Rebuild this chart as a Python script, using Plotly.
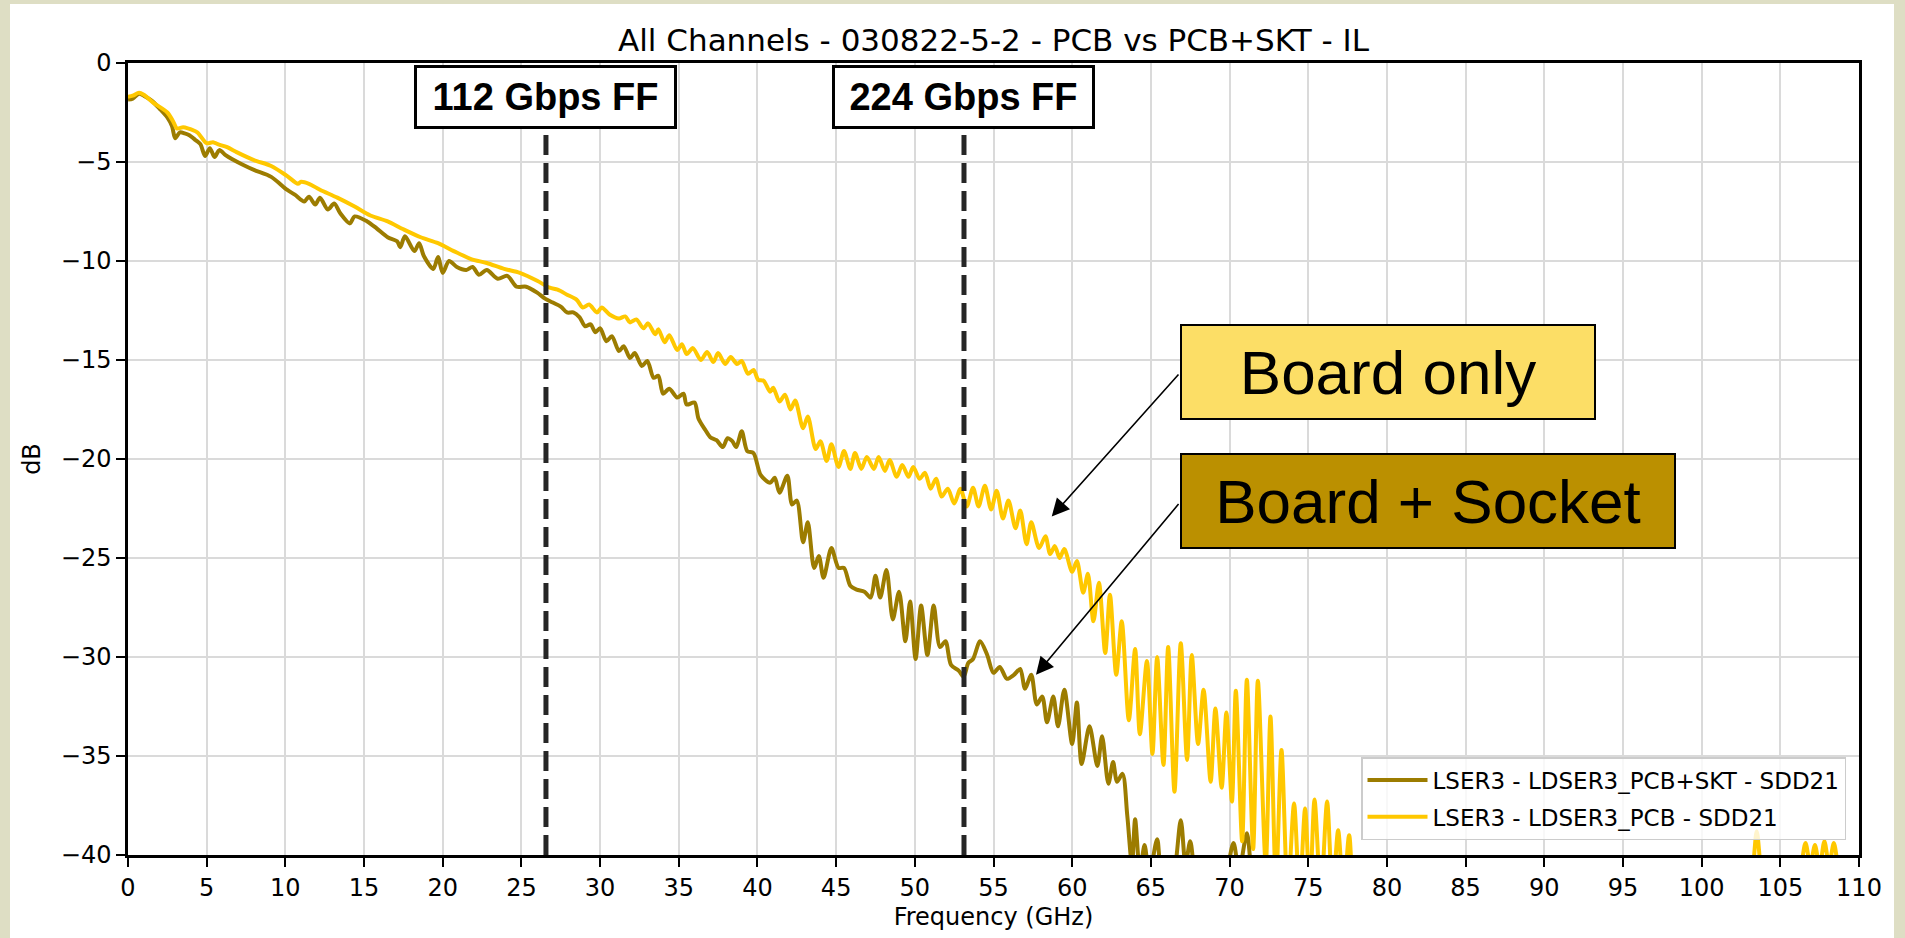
import plotly.graph_objects as go

# ---------------- data ----------------
freq_skt = [0.0, 0.3, 0.7, 1.0, 1.5, 2.0, 2.5, 2.8, 3.0, 3.3, 3.6, 3.9, 4.3, 4.6, 4.9, 5.2, 5.5, 5.8,
            6.2, 6.6, 7.2, 8.0, 9.1, 10.1, 10.6, 11.2, 11.5, 11.9, 12.2, 12.7, 13.1, 13.5, 14.1, 14.4,
            15.2, 15.8, 16.5, 17.1, 17.3, 17.6, 18.2, 18.5, 18.8, 19.4, 19.7, 20.0, 20.4, 20.9, 21.5,
            21.9, 22.3, 22.8, 23.5, 24.1, 24.7, 25.3, 26.0, 26.5, 27.0, 27.5, 27.9, 28.3, 28.7, 29.05,
            29.4, 29.7, 30.0, 30.4, 30.75, 31.2, 31.5, 31.9, 32.2, 32.65, 33.0, 33.4, 33.7, 34.0, 34.4,
            34.9, 35.3, 35.5, 36.0, 36.25, 36.7, 37.0, 37.4, 37.8, 38.1, 38.4, 38.65, 39.0, 39.35, 39.75,
            40.2, 40.8, 41.1, 41.4, 41.9, 42.2, 42.5, 42.9, 43.2, 43.6, 43.9, 44.2, 44.7, 45.15, 45.5,
            45.9, 46.3, 46.8, 47.2, 47.5, 47.8, 48.2, 48.6, 49.0, 49.4, 49.7, 50.05, 50.4, 50.8, 51.2,
            51.6, 51.95, 52.3, 52.8, 53.1, 53.4, 53.7, 54.15, 54.6, 55.0, 55.4, 55.85, 56.3, 56.7, 57.0,
            57.4, 57.75, 58.1, 58.4, 58.8, 59.1, 59.5, 60.0, 60.3, 60.6, 61.1, 61.6, 61.9, 62.3, 62.6,
            62.85, 63.2, 63.5, 63.8, 64.0, 64.3, 64.6, 64.9, 65.4, 65.7, 66.3, 66.9, 67.2, 67.5, 67.8,
            68.5, 69.5, 70.25, 70.6, 71.1, 71.4, 72.0, 75.0, 80.0, 85.0, 90.0, 95.0, 100.0, 105.0, 110.0]
db_skt = [-1.85, -1.8, -1.55, -1.65, -1.9, -2.3, -2.75, -3.2, -3.8, -3.5, -3.55, -3.65, -3.9, -4.1, -4.7,
          -4.3, -4.75, -4.4, -4.65, -4.85, -5.1, -5.4, -5.75, -6.4, -6.65, -7.0, -6.75, -7.15, -6.8, -7.4,
          -7.1, -7.6, -8.1, -7.75, -8.0, -8.35, -8.8, -9.0, -9.3, -8.75, -9.5, -9.1, -9.75, -10.4, -9.8,
          -10.6, -10.0, -10.3, -10.45, -10.3, -10.7, -10.45, -10.9, -10.75, -11.3, -11.3, -11.6, -11.9,
          -12.1, -12.3, -12.6, -12.6, -12.85, -13.3, -13.2, -13.6, -13.4, -14.05, -13.8, -14.55, -14.3,
          -14.9, -14.65, -15.3, -15.05, -15.9, -15.8, -16.7, -16.45, -16.9, -16.7, -17.25, -17.15, -17.95,
          -18.55, -18.9, -19.05, -19.4, -18.95, -19.1, -19.4, -18.6, -19.6, -19.7, -20.8, -21.2, -20.95,
          -21.7, -20.85, -22.3, -22.1, -24.2, -23.2, -25.5, -24.9, -26.0, -24.5, -25.5, -25.5, -26.4,
          -26.6, -26.7, -27.0, -25.9, -27.0, -25.6, -28.1, -26.7, -29.2, -27.2, -30.1, -27.4, -29.9,
          -27.4, -29.5, -29.2, -30.4, -30.7, -31.0, -30.3, -30.1, -29.2, -29.9, -30.8, -30.5, -31.1,
          -30.9, -30.6, -31.6, -30.9, -32.4, -32.0, -33.3, -32.0, -33.5, -31.65, -34.4, -32.3, -35.4,
          -33.5, -35.5, -34.0, -36.4, -35.3, -36.3, -35.9, -38.0, -40.5, -38.2, -40.8, -39.5, -41.0,
          -39.2, -41.0, -41.5, -38.25, -40.5, -39.3, -41.0, -43.0, -42.0, -39.4, -40.8, -38.9, -41.0,
          -44.0, -45.0, -46.0, -48.0, -47.0, -49.0, -48.0, -47.0, -49.0]

freq_pcb = [0.0, 0.3, 0.7, 1.0, 1.6, 2.5, 2.9, 3.1, 3.5, 3.8, 4.4, 5.0, 5.4, 5.7, 6.3, 6.9, 8.0, 9.1,
            10.1, 10.8, 11.0, 11.5, 12.2, 13.3, 14.4, 15.4, 16.5, 17.5, 18.6, 19.7, 20.7, 21.8, 22.8,
            23.9, 24.9, 26.0, 26.8, 27.3, 27.9, 28.5, 28.9, 29.3, 29.8, 30.1, 30.6, 31.2, 31.6, 31.9,
            32.3, 32.75, 33.05, 33.5, 33.7, 34.1, 34.4, 34.9, 35.2, 35.5, 35.9, 36.4, 36.8, 37.2, 37.5,
            37.95, 38.3, 38.7, 39.0, 39.4, 39.75, 40.05, 40.4, 40.8, 41.0, 41.4, 41.75, 42.1, 42.4, 42.9,
            43.2, 43.7, 44.0, 44.4, 44.7, 45.15, 45.5, 45.9, 46.2, 46.6, 46.95, 47.4, 47.7, 48.1, 48.4,
            48.85, 49.2, 49.6, 49.9, 50.3, 50.65, 51.0, 51.35, 51.7, 52.1, 52.5, 52.9, 53.3, 53.7, 54.05,
            54.45, 54.85, 55.2, 55.6, 55.95, 56.4, 56.7, 57.1, 57.4, 57.9, 58.3, 58.6, 58.9, 59.2, 59.5,
            60.0, 60.3, 60.7, 61.0, 61.35, 61.7, 62.1, 62.4, 62.8, 63.15, 63.6, 64.0, 64.3, 64.75, 65.1,
            65.4, 65.8, 66.1, 66.5, 66.9, 67.3, 67.6, 68.0, 68.35, 68.8, 69.1, 69.5, 69.8, 70.15, 70.4,
            70.8, 71.1, 71.5, 71.8, 72.3, 72.6, 72.95, 73.3, 73.7, 74.1, 74.45, 74.8, 75.1, 75.4, 75.8,
            76.2, 76.55, 76.9, 77.25, 77.6, 78.0, 78.5, 80.0, 85.0, 90.0, 95.0, 100.0, 102.5, 103.2,
            103.5, 103.8, 104.5, 106.0, 106.6, 106.9, 107.2, 107.5, 107.8, 108.1, 108.4, 108.7, 109.2, 110.0]
db_pcb = [-1.7, -1.65, -1.5, -1.6, -2.0, -2.5, -3.0, -3.3, -3.25, -3.3, -3.5, -4.05, -4.0, -4.1, -4.25,
          -4.5, -4.9, -5.2, -5.7, -6.1, -6.0, -6.1, -6.4, -6.8, -7.25, -7.7, -8.0, -8.4, -8.8, -9.1, -9.5,
          -9.9, -10.1, -10.4, -10.6, -11.0, -11.35, -11.45, -11.7, -11.95, -12.35, -12.2, -12.6, -12.35,
          -12.7, -12.9, -12.8, -13.1, -12.95, -13.4, -13.15, -13.7, -13.45, -14.1, -13.75, -14.5, -14.2,
          -14.7, -14.4, -15.0, -14.6, -15.1, -14.65, -15.2, -14.85, -15.2, -15.05, -15.7, -15.5, -16.0,
          -16.05, -16.6, -16.4, -17.1, -16.75, -17.5, -17.05, -18.45, -17.85, -19.5, -19.1, -20.1, -19.25,
          -20.4, -19.6, -20.5, -19.7, -20.5, -19.9, -20.5, -19.9, -20.6, -20.05, -20.9, -20.3, -20.9,
          -20.4, -21.0, -20.7, -21.5, -21.0, -21.9, -21.5, -22.25, -21.5, -22.4, -21.45, -22.4, -21.35,
          -22.55, -21.6, -23.0, -22.1, -23.5, -22.6, -24.3, -23.2, -24.5, -23.9, -24.8, -24.4, -25.0,
          -24.55, -25.7, -25.15, -26.75, -25.8, -28.2, -26.25, -29.8, -26.85, -30.9, -28.2, -33.2, -29.6,
          -33.9, -30.2, -34.9, -30.0, -35.45, -29.5, -36.8, -29.3, -35.2, -29.9, -34.4, -31.65, -36.3,
          -32.6, -36.6, -32.8, -37.3, -31.7, -39.3, -31.15, -39.7, -31.2, -40.5, -33.0, -41.5, -34.7,
          -42.0, -37.4, -42.0, -37.65, -42.0, -37.2, -42.0, -37.3, -42.0, -38.75, -42.0, -39.0, -42.5,
          -43.0, -45.0, -47.0, -46.0, -48.0, -46.0, -43.0, -41.0, -38.8, -41.0, -44.0, -42.0, -39.4,
          -40.5, -39.5, -40.6, -39.3, -40.5, -39.4, -40.8, -43.0, -45.0]

series_names = ["LSER3 - LDSER3_PCB+SKT - SDD21", "LSER3 - LDSER3_PCB - SDD21"]
ff_freq = [26.56, 53.125]
ff_label = ["112 Gbps FF", "224 Gbps FF"]
callout_text = ["Board only", "Board + Socket"]
x_ticks = list(range(0, 111, 5))
y_ticks = list(range(-40, 1, 5))
title_text = "All Channels - 030822-5-2 - PCB vs PCB+SKT - IL"

# ---------------- styling ----------------
C_SKT = "#9c7c00"
C_PCB = "#ffc800"
W, H = 1905, 938
L, R, T, B = 128, 1859, 63, 855
pw, ph = R - L, B - T

def px_x(X):
    return (X - L) / pw

def px_y(Y):
    return (B - Y) / ph

fig = go.Figure()
fig.add_trace(go.Scatter(x=freq_skt, y=db_skt, mode="lines", name=series_names[0], legendgroup="a",
                         line=dict(color=C_SKT, width=4, shape="spline", smoothing=0.8)))
fig.add_trace(go.Scatter(x=freq_pcb, y=db_pcb, mode="lines", name=series_names[1], legendgroup="b",
                         line=dict(color=C_PCB, width=4, shape="spline", smoothing=0.8)))

shapes = [
    dict(type="rect", xref="paper", yref="paper", x0=px_x(10), x1=px_x(1894), y0=px_y(940), y1=px_y(4),
         fillcolor="white", line=dict(width=0), layer="below"),
]
for f in ff_freq:
    shapes.append(dict(type="line", xref="x", yref="y", x0=f, x1=f, y0=-40, y1=-3.3,
                       line=dict(color="#262626", width=5, dash="20px,8px"), layer="above"))

annotations = []
for f, lab in zip(ff_freq, ff_label):
    annotations.append(dict(x=f, y=0, xref="x", yref="y", yshift=-2, xanchor="center", yanchor="top",
                            showarrow=False, text="<b>" + lab + "</b>",
                            font=dict(family="Liberation Sans, Arial", size=38, color="black"),
                            bgcolor="white", bordercolor="black", borderwidth=3, borderpad=0,
                            width=257, height=58))

box_fill = ["#fcde66", "#bb9000"]
box_top = [-13.18, -19.70]
box_w = [412, 492]
arrow_head = [(58.7, -22.9), (57.7, -30.9)]
arrow_tail = [(66.84, -15.66), (66.84, -22.2)]
for i in range(2):
    annotations.append(dict(x=arrow_head[i][0], y=arrow_head[i][1], ax=arrow_tail[i][0], ay=arrow_tail[i][1],
                            xref="x", yref="y", axref="x", ayref="y", text="", showarrow=True,
                            arrowhead=2, arrowsize=2.2, arrowwidth=1.6, arrowcolor="black", standoff=0))
    annotations.append(dict(x=66.84, y=box_top[i], xref="x", yref="y", xanchor="left", yanchor="top",
                            showarrow=False, text=callout_text[i],
                            font=dict(family="Liberation Sans, Arial", size=62, color="black"),
                            bgcolor=box_fill[i], bordercolor="black", borderwidth=2, borderpad=0,
                            width=box_w[i], height=92))

axis_common = dict(showgrid=True, gridcolor="#dadada", gridwidth=2, zeroline=False,
                   showline=True, linecolor="black", linewidth=2.5, mirror=True,
                   ticks="outside", ticklen=9, tickwidth=2, tickcolor="black",
                   tickfont=dict(family="DejaVu Sans", size=24, color="black"))

fig.update_layout(
    width=W, height=H, autosize=False,
    margin=dict(l=L, r=W - R, t=T, b=H - B, pad=0),
    paper_bgcolor="#dedec4", plot_bgcolor="white",
    title=dict(text=title_text, x=0.5, xref="paper", xanchor="center",
               y=1 - 40 / H, yref="container", yanchor="middle",
               font=dict(family="DejaVu Sans", size=31, color="black")),
    xaxis=dict(range=[0, 110], tickvals=x_ticks, ticktext=[str(v) for v in x_ticks],
               title=dict(text="Frequency (GHz)", standoff=8,
                          font=dict(family="DejaVu Sans", size=24, color="black")),
               **axis_common),
    yaxis=dict(range=[-40, 0], tickvals=y_ticks, ticktext=[("\u2212" + str(-v)) if v < 0 else str(v) for v in y_ticks],
               title=dict(text="dB", standoff=14,
                          font=dict(family="DejaVu Sans", size=24, color="black")),
               **axis_common),
    legend=dict(x=px_x(1846), y=px_y(840), xanchor="right", yanchor="bottom",
                bgcolor="rgba(255,255,255,0.8)", bordercolor="#cccccc", borderwidth=1.5,
                itemwidth=60, tracegroupgap=4,
                font=dict(family="DejaVu Sans", size=23, color="black")),
    shapes=shapes, annotations=annotations, showlegend=True,
)

fig.write_html("out.html")
